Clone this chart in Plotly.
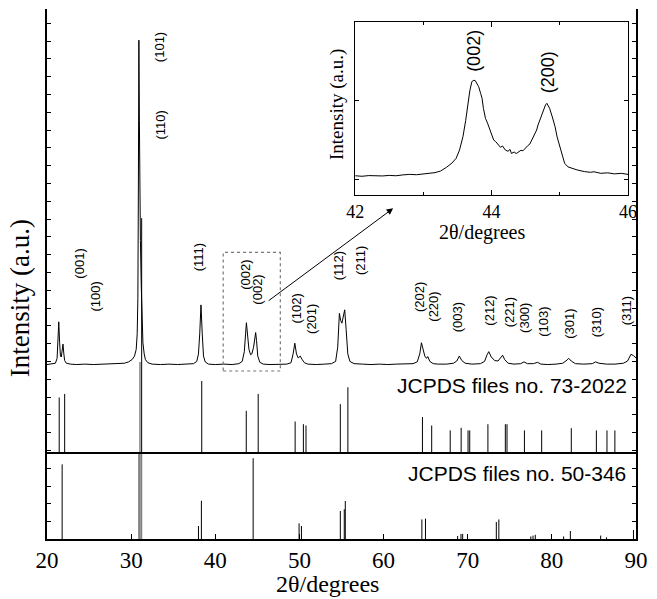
import plotly.graph_objects as go

# ---------------- data ----------------
# measured XRD pattern (2theta in degrees, intensity in arbitrary units of the upper panel)
pattern_2theta = [20.0, 20.5, 21.0, 21.2, 21.3, 21.4, 21.5, 21.6, 21.7, 21.8, 21.9, 22.0, 22.1, 22.3, 22.8,
                  23.5, 24.5, 25.5, 26.5, 27.5, 28.5, 29.2, 29.7, 30.1, 30.4, 30.6, 30.72, 30.8, 30.86, 30.92,
                  30.98, 31.03, 31.1, 31.2, 31.3, 31.4, 31.55, 31.7, 32.0, 32.5, 33.5, 34.5, 35.5, 36.5, 37.4,
                  37.8, 38.0, 38.15, 38.3, 38.45, 38.6, 38.8, 39.2, 40.0, 41.0, 42.0, 42.8, 43.2, 43.45, 43.6,
                  43.7, 43.85, 44.0, 44.2, 44.35, 44.55, 44.7, 44.8, 44.9, 45.05, 45.3, 45.7, 46.5, 47.5, 48.5,
                  49.0, 49.25, 49.45, 49.65, 49.85, 50.1, 50.3, 50.6, 51.0, 52.0, 53.0, 53.8, 54.3, 54.55, 54.75,
                  54.9, 55.05, 55.2, 55.38, 55.55, 55.75, 56.0, 56.5, 57.5, 58.5, 59.5, 60.5, 61.5, 62.5, 63.5,
                  64.0, 64.3, 64.5, 64.7, 64.9, 65.1, 65.25, 65.5, 65.9, 66.5, 67.5, 68.3, 68.7, 69.0, 69.3,
                  69.7, 70.5, 71.5, 72.0, 72.3, 72.5, 72.8, 73.2, 73.6, 73.9, 74.15, 74.4, 74.8, 75.5, 76.3,
                  76.7, 77.1, 77.8, 78.3, 78.7, 79.5, 80.5, 81.3, 81.8, 82.0, 82.3, 82.8, 83.8, 84.8, 85.2,
                  85.6, 86.5, 87.5, 88.5, 89.0, 89.4, 89.7, 90.0]
pattern_intensity = [20.1, 20.2, 20.4, 21.5, 25.0, 29.7, 25.0, 22.0, 21.8, 23.0, 24.7, 22.5, 21.0, 20.4, 20.2,
                     20.1, 20.2, 20.1, 20.2, 20.2, 20.3, 20.4, 20.7, 21.2, 22.0, 23.5, 27.0, 35.0, 60.0, 93.0,
                     75.0, 55.0, 48.0, 38.0, 30.0, 25.0, 22.5, 21.2, 20.5, 20.2, 20.1, 20.2, 20.1, 20.2, 20.3,
                     20.8, 22.5, 27.0, 33.5, 27.0, 22.0, 20.7, 20.2, 20.1, 20.2, 20.1, 20.3, 20.8, 23.0, 27.0,
                     29.5, 26.5, 23.5, 22.3, 22.5, 24.0, 26.5, 27.3, 25.5, 22.0, 20.6, 20.2, 20.1, 20.2, 20.2,
                     20.5, 22.5, 24.9, 22.5, 21.6, 22.0, 21.3, 20.5, 20.2, 20.1, 20.2, 20.3, 20.8, 24.0, 31.6,
                     30.0, 29.4, 31.0, 32.4, 28.0, 22.5, 20.8, 20.3, 20.2, 20.1, 20.2, 20.1, 20.2, 20.2, 20.3,
                     20.7, 22.5, 25.0, 23.5, 22.0, 21.5, 21.9, 20.8, 20.3, 20.2, 20.2, 20.4, 20.9, 22.0, 21.0,
                     20.4, 20.2, 20.3, 20.8, 22.3, 23.0, 21.8, 21.0, 20.9, 21.7, 22.2, 21.2, 20.4, 20.2, 20.3,
                     20.7, 20.3, 20.3, 20.6, 20.2, 20.1, 20.2, 20.4, 21.1, 21.5, 20.9, 20.3, 20.2, 20.3, 20.7,
                     20.4, 20.2, 20.2, 20.4, 20.9, 22.4, 22.1, 21.6]

# JCPDS 73-2022 reference lines
ref73_2theta = [21.45, 22.1, 31.25, 38.39, 43.68, 45.1, 49.49, 50.47, 50.78, 54.86, 55.76, 64.62, 65.72,
                67.92, 69.22, 70.04, 70.24, 72.4, 74.47, 74.67, 76.74, 78.79, 82.31, 85.29, 86.55, 87.49]
ref73_intensity = [12.7, 13.5, 53.0, 16.4, 9.7, 13.5, 7.3, 6.7, 6.4, 11.2, 15.0, 8.3, 6.4,
                   5.3, 5.9, 5.3, 5.3, 6.7, 6.7, 6.7, 5.3, 5.3, 5.8, 5.3, 5.3, 5.3]
overflow_2theta = [31.05]
overflow_intensity = [20.7]

# JCPDS 50-346 reference lines
ref50_2theta = [21.8, 30.95, 31.2, 38.0, 38.35, 44.5, 49.96, 50.24, 54.86, 55.33, 55.45, 64.55, 64.98,
                68.8, 69.2, 69.4, 73.4, 73.7, 77.5, 77.76, 78.03, 81.4, 82.2, 85.8, 86.5, 89.7]
ref50_intensity = [87.8, 100, 100, 15.3, 45.0, 95.0, 18.4, 15.3, 33.0, 35.0, 44.7, 23.0, 24.0,
                   3.5, 6.0, 6.0, 20.0, 23.0, 3.0, 4.0, 5.0, 3.0, 9.4, 4.0, 2.0, 10.6]

# inset: zoom of the 42-46 degree region
inset_2theta = [42.00, 42.10, 42.20, 42.30, 42.40, 42.50, 42.60, 42.70, 42.80, 42.90, 43.00, 43.10, 43.17,
                43.25, 43.34, 43.42, 43.48, 43.53, 43.58, 43.62, 43.65, 43.68, 43.71, 43.74, 43.76, 43.79,
                43.81, 43.84, 43.86, 43.88, 43.91, 43.94, 43.96, 44.00, 44.03, 44.06, 44.10, 44.13, 44.16,
                44.20, 44.24, 44.27, 44.29, 44.33, 44.36, 44.39, 44.43, 44.46, 44.49, 44.53, 44.56, 44.59,
                44.63, 44.66, 44.68, 44.72, 44.76, 44.79, 44.81, 44.83, 44.85, 44.89, 44.93, 44.96, 45.00,
                45.04, 45.07, 45.12, 45.17, 45.25, 45.36, 45.45, 45.50, 45.60, 45.70, 45.80, 45.90, 46.00]
inset_intensity = [11.1, 10.8, 11.2, 10.9, 11.0, 11.3, 11.1, 11.6, 11.9, 11.7, 12.1, 12.5, 12.9,
                   13.8, 16.0, 18.5, 21.2, 26.0, 33.7, 43.0, 52.9, 60.0, 65.4, 66.2, 66.0, 64.0,
                   62.5, 58.5, 55.8, 50.0, 44.2, 41.5, 39.4, 34.5, 31.7, 30.8, 28.9, 27.5, 28.3,
                   26.0, 25.2, 26.3, 24.0, 24.8, 23.9, 24.6, 25.8, 25.5, 26.9, 28.5, 29.4, 31.7,
                   35.0, 37.5, 40.4, 45.0, 49.0, 52.0, 52.9, 51.5, 50.0, 45.0, 39.4, 33.5, 27.9,
                   22.0, 18.3, 16.2, 15.4, 14.5, 13.5, 13.1, 13.4, 12.5, 12.8, 12.2, 12.5, 11.9]

# peak labels (hkl) and their placement in the upper panel
hkl_labels = ["(001)", "(100)", "(101)", "(110)", "(111)", "(002)", "(002)", "(102)", "(201)", "(112)",
              "(211)", "(202)", "(220)", "(003)", "(212)", "(221)", "(300)", "(103)", "(301)", "(310)", "(311)"]
hkl_x = [23.88, 25.76, 33.35, 33.47, 38.0, 43.49, 45.06, 49.65, 51.35, 54.59,
         57.33, 64.35, 65.94, 68.88, 72.59, 74.94, 76.82, 79.06, 82.0, 85.29, 88.82]
hkl_y = [42.7, 35.5, 91.5, 73.9, 44.3, 40.2, 36.9, 32.8, 30.3, 42.2,
         43.4, 35.3, 33.0, 30.8, 32.1, 31.9, 30.6, 29.7, 29.2, 29.7, 32.1]

inset_labels = ["(002)", "(200)"]
inset_label_x = [43.74, 44.83]
inset_label_y = [83.1, 71.0]

x_ticks = [20, 30, 40, 50, 60, 70, 80, 90]
inset_ticks = [42, 44, 46]


def sticks(xs, hs):
    X, Y = [], []
    for x, h in zip(xs, hs):
        X += [x, x, None]
        Y += [0, h, None]
    return X, Y


SERIF = "Liberation Serif"
SANS = "Liberation Sans"

fig = go.Figure()

# measured pattern
fig.add_trace(go.Scatter(x=pattern_2theta, y=pattern_intensity, mode="lines",
                         line=dict(color="black", width=1), xaxis="x", yaxis="y"))
# JCPDS 73-2022
sx, sy = sticks(ref73_2theta, ref73_intensity)
fig.add_trace(go.Scatter(x=sx, y=sy, mode="lines", line=dict(color="black", width=1),
                         xaxis="x", yaxis="y"))
sx, sy = sticks(overflow_2theta, overflow_intensity)
fig.add_trace(go.Scatter(x=sx, y=sy, mode="lines", line=dict(color="#808080", width=1.5),
                         xaxis="x", yaxis="y"))
# JCPDS 50-346
weak = [(x, h) for x, h in zip(ref50_2theta, ref50_intensity) if h < 100]
strong = [(x, h) for x, h in zip(ref50_2theta, ref50_intensity) if h >= 100]
sx, sy = sticks([w[0] for w in weak], [w[1] for w in weak])
fig.add_trace(go.Scatter(x=sx, y=sy, mode="lines", line=dict(color="black", width=1),
                         xaxis="x", yaxis="y2"))
sx, sy = sticks([s[0] for s in strong], [s[1] for s in strong])
fig.add_trace(go.Scatter(x=sx, y=sy, mode="lines", line=dict(color="#808080", width=2),
                         xaxis="x", yaxis="y2"))
# inset
fig.add_trace(go.Scatter(x=inset_2theta, y=inset_intensity, mode="lines",
                         line=dict(color="black", width=1), xaxis="x4", yaxis="y4"))

split = 85 / 530
axis_common = dict(showgrid=False, zeroline=False, showline=True, linecolor="black")

fig.update_layout(
    width=657, height=599,
    margin=dict(l=47, r=15, t=9, b=60),
    paper_bgcolor="white", plot_bgcolor="white",
    showlegend=False,
    xaxis=dict(**axis_common, domain=[0, 1], range=[20, 90], anchor="y2", linewidth=1.5,
               mirror=True, tickvals=x_ticks, ticks="inside", ticklen=5, tickwidth=1,
               tickcolor="black", ticklabelstandoff=0,
               tickfont=dict(family=SERIF, size=23, color="black")),
    xaxis3=dict(**axis_common, overlaying="x", anchor="y", side="top", range=[20, 90],
                tick0=20, dtick=5, ticks="inside", ticklen=4, tickcolor="black",
                showticklabels=False, linewidth=1.5),
    yaxis=dict(**axis_common, domain=[split, 1], range=[0, 100], anchor="x", linewidth=2,
               mirror="ticks", ticks="inside", tick0=0.8, dtick=4, ticklen=4,
               tickcolor="black", showticklabels=False),
    yaxis2=dict(**axis_common, domain=[0, split], range=[0, 100], anchor="x", linewidth=2,
                mirror="ticks", ticks="inside", tick0=0, dtick=20.6, ticklen=4,
                tickcolor="black", showticklabels=False),
    xaxis4=dict(**axis_common, domain=[(358.3 - 47) / 595, (634 - 47) / 595], anchor="y4",
                range=[42, 46], tickvals=inset_ticks, ticks="inside", ticklen=5, linewidth=1,
                mirror="ticks", tickcolor="black", ticklabelstandoff=0,
                minor=dict(dtick=1, tick0=42, ticks="inside", ticklen=3, tickcolor="black"),
                tickfont=dict(family=SERIF, size=18, color="black")),
    yaxis4=dict(**axis_common, domain=[(539 - 195) / 530, (539 - 21.7) / 530], anchor="x4",
                range=[0, 100], tickvals=[8.7, 54.8], ticks="inside", ticklen=4, linewidth=1,
                mirror="ticks", tickcolor="black", showticklabels=False),
)

annotations = []
for t, x, y in zip(hkl_labels, hkl_x, hkl_y):
    annotations.append(dict(text=t, x=x, y=y, xref="x", yref="y", showarrow=False, textangle=-90,
                            font=dict(family=SANS, size=13, color="black")))
for t, x, y in zip(inset_labels, inset_label_x, inset_label_y):
    annotations.append(dict(text=t, x=x, y=y, xref="x4", yref="y4", showarrow=False, textangle=-90,
                            font=dict(family=SANS, size=18, color="black")))

annotations += [
    dict(text="JCPDS files no. 73-2022", x=(635 - 47) / 595, y=(539 - 385) / 530, xref="paper",
         yref="paper", xanchor="right", yanchor="middle", showarrow=False,
         font=dict(family=SANS, size=21, color="black")),
    dict(text="JCPDS files no. 50-346", x=(634 - 47) / 595, y=(539 - 473) / 530, xref="paper",
         yref="paper", xanchor="right", yanchor="middle", showarrow=False,
         font=dict(family=SANS, size=21, color="black")),
    dict(text="Intensity (a.u.)", x=(20 - 47) / 595, y=(539 - 298) / 530, xref="paper", yref="paper",
         textangle=-90, showarrow=False, xanchor="center", yanchor="middle",
         font=dict(family=SERIF, size=27, color="black")),
    dict(text="2θ/degrees", x=(330 - 47) / 595, y=(539 - 584) / 530, xref="paper", yref="paper",
         showarrow=False, xanchor="center", yanchor="middle",
         font=dict(family=SERIF, size=24, color="black")),
    dict(text="2θ/degrees", x=(486.7 - 47) / 595, y=(539 - 232) / 530, xref="paper", yref="paper",
         showarrow=False, xanchor="center", yanchor="middle",
         font=dict(family=SERIF, size=20, color="black")),
    dict(text="Intensity (a.u.)", x=(340 - 47) / 595, y=(539 - 105) / 530, xref="paper", yref="paper",
         textangle=-90, showarrow=False, xanchor="center", yanchor="middle",
         font=dict(family=SERIF, size=19, color="black")),
    dict(text="", x=61.14, y=55.2, xref="x", yref="y", ax=46.16, ay=34.2, axref="x", ayref="y",
         showarrow=True, arrowhead=2, arrowsize=1.3, arrowwidth=1, arrowcolor="black", standoff=0),
]
fig.update_layout(annotations=annotations)

fig.add_shape(type="rect", x0=40.94, x1=47.73, y0=18.65, y1=45.3, xref="x", yref="y",
              line=dict(color="#777777", width=1.2, dash="dot"))

fig.write_html("out.html")
